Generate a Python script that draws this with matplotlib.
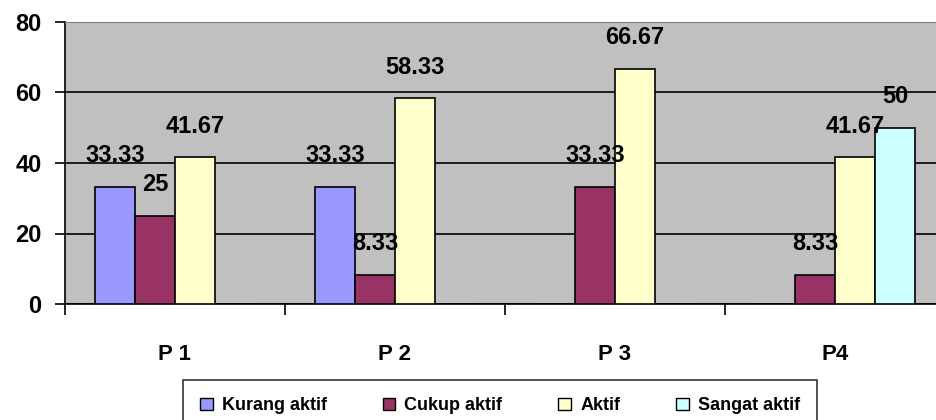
import numpy as np
import matplotlib.pyplot as plt
from matplotlib.patches import Patch

categories = ["P 1", "P 2", "P 3", "P4"]
series = ["Kurang aktif", "Cukup aktif", "Aktif", "Sangat aktif"]
kurang = [33.33, 33.33, 0, 0]
cukup = [25, 8.33, 33.33, 8.33]
aktif = [41.67, 58.33, 66.67, 41.67]
sangat = [0, 0, 0, 50]
colors = ["#9999FF", "#993366", "#FFFFCC", "#CCFFFF"]

plt.rcParams['font.family'] = ['Liberation Sans', 'DejaVu Sans']

fig = plt.figure(figsize=(9.37, 4.2), dpi=100)
# plot area runs past the right edge, as in the original
ax = fig.add_axes([65/937, 1 - 304/420, 880/937, 282/420])
ax.set_facecolor("#C0C0C0")

x = np.arange(len(categories))
w = 0.182
for i, (vals, col) in enumerate(zip([kurang, cukup, aktif, sangat], colors)):
    pos = x + (i - 1.5) * w
    ax.bar(pos, vals, w, color=col, edgecolor="black", linewidth=1.2, zorder=3)
    for p, v in zip(pos, vals):
        if v:
            ax.annotate(f"{v:g}", (p, v), xytext=(0, 31), textcoords="offset pixels",
                        ha="center", va="center", fontsize=17, fontweight="bold", zorder=4)

ax.set_xlim(-0.5, len(categories) - 0.5)
ax.set_ylim(0, 80)
ax.set_yticks([0, 20, 40, 60, 80])
ax.yaxis.grid(True, color="black", linewidth=1.2, zorder=1)
ax.set_xticks(np.arange(len(categories) + 1) - 0.5)
ax.set_xticklabels([])
ax.set_xticks(x, minor=True)
ax.set_xticklabels(categories, minor=True)
ax.tick_params(axis="x", which="minor", length=0, pad=29, labelsize=16)
ax.tick_params(axis="x", which="major", length=8, width=1.2, direction="out")
ax.tick_params(axis="y", length=7, width=1.2, labelsize=17, pad=10)
for lab in ax.get_xticklabels(minor=True) + ax.get_yticklabels():
    lab.set_fontweight("bold")
ax.spines["right"].set_visible(False)
ax.spines["top"].set_color("#808080")
ax.spines["left"].set_linewidth(1.2)
ax.spines["bottom"].set_linewidth(1.2)

handles = [Patch(facecolor=c, edgecolor="black", label=s) for c, s in zip(colors, series)]
leg = fig.legend(handles=handles, loc="upper left", bbox_to_anchor=(183/937, 1 - 380/420),
                 ncol=4, frameon=True, fancybox=False, edgecolor="black",
                 prop={"size": 13, "weight": "bold"}, handlelength=0.7, handleheight=0.7,
                 columnspacing=3.1, handletextpad=0.5, borderpad=0.95, borderaxespad=0)
leg.get_frame().set_linewidth(1.2)

fig.savefig("out.png", dpi=100)
